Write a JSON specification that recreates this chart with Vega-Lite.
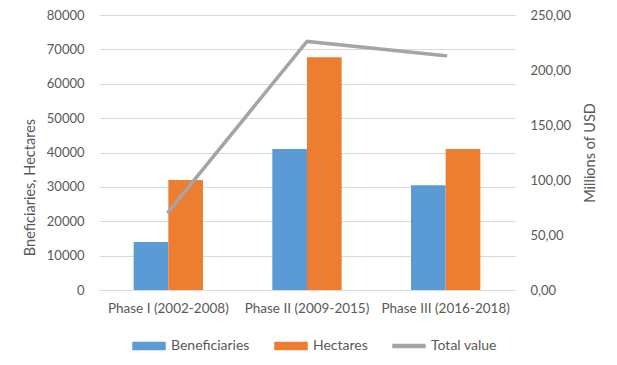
{
  "$schema": "https://vega.github.io/schema/vega-lite/v6.json",
  "autosize": {"type": "none"},
  "width": 416,
  "height": 275,
  "padding": {"left": 99, "top": 15, "right": 102, "bottom": 75},
  "background": "white",
  "config": {
    "font": "Lato",
    "view": {"stroke": null},
    "axis": {"labelColor": "#595959", "titleColor": "#595959", "labelFont": "Lato", "titleFont": "Lato", "titleFontWeight": "normal", "domain": false, "ticks": false, "gridColor": "#D9D9D9", "gridWidth": 1},
    "legend": {"labelColor": "#595959", "labelFont": "Lato", "labelFontSize": 14}
  },
  "data": {
    "values": [
      {"phase": "Phase I (2002-2008)", "series": "Beneficiaries", "value": 14000},
      {"phase": "Phase I (2002-2008)", "series": "Hectares", "value": 32000},
      {"phase": "Phase II (2009-2015)", "series": "Beneficiaries", "value": 41000},
      {"phase": "Phase II (2009-2015)", "series": "Hectares", "value": 67700},
      {"phase": "Phase III (2016-2018)", "series": "Beneficiaries", "value": 30500},
      {"phase": "Phase III (2016-2018)", "series": "Hectares", "value": 41000},
      {"phase": "Phase I (2002-2008)", "series": "Total value", "value": 71},
      {"phase": "Phase II (2009-2015)", "series": "Total value", "value": 226},
      {"phase": "Phase III (2016-2018)", "series": "Total value", "value": 213}
    ]
  },
  "encoding": {
    "x": {"field": "phase", "type": "nominal", "sort": null, "title": null,
      "scale": {"paddingInner": 0, "paddingOuter": 0},
      "axis": {"labelAngle": 0, "labelFontSize": 13.5, "labelPadding": 11, "domain": true, "domainColor": "#D9D9D9", "grid": false}}
  },
  "layer": [
    {
      "transform": [{"filter": "datum.series !== 'Total value'"}],
      "mark": {"type": "bar"},
      "encoding": {
        "xOffset": {"field": "series", "type": "nominal", "scale": {"paddingInner": 0, "paddingOuter": 1.1}},
        "y": {"field": "value", "type": "quantitative", "scale": {"domain": [0, 80000]},
          "title": "Bneficiaries, Hectares",
          "axis": {"values": [0, 10000, 20000, 30000, 40000, 50000, 60000, 70000, 80000], "format": "d", "labelFontSize": 13, "labelPadding": 15, "titleFontSize": 14.5, "titleX": -69, "titleY": 172, "titleAngle": -90, "titleAlign": "center", "titleBaseline": "middle"}},
        "color": {"field": "series", "type": "nominal",
          "scale": {"domain": ["Beneficiaries", "Hectares", "Total value"], "range": ["#5B9BD5", "#ED7D31", "#A5A5A5"]},
          "legend": {"title": null, "orient": "none", "legendX": 33, "legendY": 314, "direction": "horizontal", "columnPadding": 22, "labelOffset": 5,
            "symbolType": "M-1,-0.22L1,-0.22L1,0.22L-1,0.22Z", "symbolSize": 1024,
            "encode": {"symbols": {"update": {
              "shape": {"signal": "datum.value === 'Total value' ? 'M-1,-0.09L1,-0.09L1,0.09L-1,0.09Z' : 'M-1,-0.22L1,-0.22L1,0.22L-1,0.22Z'"},
              "fill": {"signal": "scale('color', datum.value)"},
              "stroke": {"value": "transparent"},
              "opacity": {"value": 1}, "fillOpacity": {"value": 1}
            }}}}
        }
      }
    },
    {
      "transform": [{"filter": "datum.series === 'Total value'"}],
      "mark": {"type": "line", "strokeWidth": 3.5, "strokeCap": "round"},
      "encoding": {
        "y": {"field": "value", "type": "quantitative", "scale": {"domain": [0, 250]},
          "title": "Millions of USD",
          "axis": {"orient": "right", "values": [0, 50, 100, 150, 200, 250], "grid": false, "labelExpr": "replace(format(datum.value, '.2f'), '.', ',')", "labelFontSize": 13, "labelPadding": 15, "titleFontSize": 14.5, "titleX": 75, "titleY": 137.5, "titleAngle": -90, "titleAlign": "center", "titleBaseline": "middle"}},
        "color": {"field": "series", "type": "nominal"}
      }
    }
  ],
  "resolve": {"scale": {"y": "independent"}}
}
